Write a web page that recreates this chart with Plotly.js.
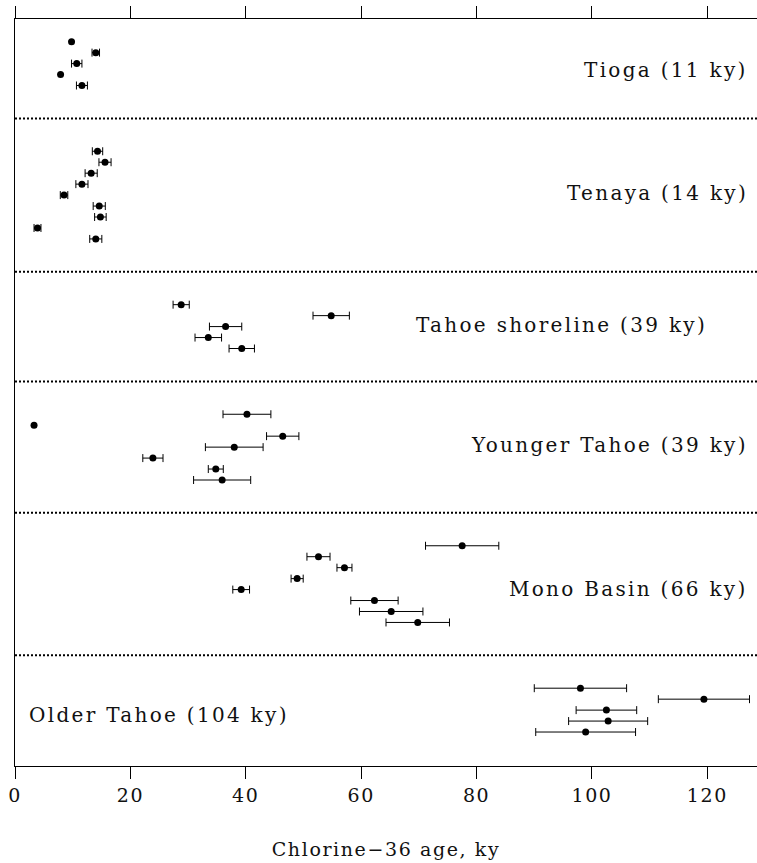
<!DOCTYPE html>
<html>
<head>
<meta charset="utf-8">
<script src="https://cdn.plot.ly/plotly-3.0.1.min.js"></script>
<style>
html,body{margin:0;padding:0;background:#fff;}
#chart{width:757px;height:863px;}
text{letter-spacing:2.3px;}
.g-xtitle text{letter-spacing:1.6px;}
.xtick text{letter-spacing:1.6px;}
</style>
</head>
<body>
<div id="chart"></div>
<script>
// Chlorine-36 ages (ky) and 1-sigma errors (ky), grouped by moraine
var groupNames = ["Tioga (11 ky)", "Tenaya (14 ky)", "Tahoe shoreline (39 ky)", "Younger Tahoe (39 ky)", "Mono Basin (66 ky)", "Older Tahoe (104 ky)"];
var tiogaAge = [9.8, 14.0, 10.7, 7.9, 11.6];
var tiogaErr = [0, 0.65, 0.9, 0, 0.95];
var tenayaAge = [14.3, 15.6, 13.2, 11.6, 8.5, 14.6, 14.8, 3.9, 14.0];
var tenayaErr = [0.9, 1.05, 1.05, 1.05, 0.65, 1.05, 1.0, 0.6, 1.05];
var shorelineAge = [28.8, 54.8, 36.5, 33.5, 39.3];
var shorelineErr = [1.4, 3.15, 2.8, 2.3, 2.2];
var youngerTahoeAge = [40.2, 3.3, 46.4, 38.0, 23.9, 34.8, 35.9];
var youngerTahoeErr = [4.15, 0, 2.8, 5.0, 1.75, 1.3, 4.95];
var monoBasinAge = [77.5, 52.6, 57.1, 48.9, 39.2, 62.3, 65.2, 69.8];
var monoBasinErr = [6.35, 2.0, 1.3, 1.05, 1.45, 4.1, 5.5, 5.5];
var olderTahoeAge = [98.0, 119.4, 102.5, 102.8, 98.9];
var olderTahoeErr = [8.0, 7.9, 5.25, 6.85, 8.65];
var xTickVals = [0, 20, 40, 60, 80, 100, 120];

var groups = [
  {age: tiogaAge, err: tiogaErr},
  {age: tenayaAge, err: tenayaErr},
  {age: shorelineAge, err: shorelineErr},
  {age: youngerTahoeAge, err: youngerTahoeErr},
  {age: monoBasinAge, err: monoBasinErr},
  {age: olderTahoeAge, err: olderTahoeErr}
];

var FONT = "'DejaVu Serif', 'Liberation Serif', serif";
var traces = [], shapes = [], annotations = [];
// label placement per group: [paper x, anchor, row offset]
var labelPos = [
  [0.99, 'right', 2.6],
  [0.99, 'right', 3.85],
  [0.935, 'right', 1.85],
  [0.99, 'right', 2.85],
  [0.99, 'right', 3.95],
  [0.016, 'left', 2.45]
];
var row = 0;
groups.forEach(function (g, gi) {
  var ys = [], errs = [];
  var start = row;
  g.age.forEach(function (a, i) {
    ys.push(row);
    errs.push(g.err[i] > 0 ? g.err[i] : NaN);
    row++;
  });
  traces.push({
    type: 'scatter', mode: 'markers', x: g.age, y: ys,
    marker: {color: '#000', size: 7},
    error_x: {type: 'data', array: errs, symmetric: true, color: '#000', thickness: 1, width: 4},
    hoverinfo: 'x', showlegend: false
  });
  annotations.push({
    xref: 'paper', yref: 'y', x: labelPos[gi][0], y: start + labelPos[gi][2],
    xanchor: labelPos[gi][1], yanchor: 'middle', showarrow: false,
    text: groupNames[gi], font: {family: FONT, size: 20, color: '#111'}
  });
  if (gi < groups.length - 1) {
    var sepY = row - 1 + 3;
    shapes.push({type: 'line', xref: 'paper', yref: 'y', x0: 0, x1: 1, y0: sepY, y1: sepY,
      line: {color: '#000', width: 2, dash: '2px,2px'}});
    row = sepY + 3;
  }
});

var layout = {
  width: 757, height: 863,
  margin: {l: 15, r: 0, t: 19, b: 97},
  paper_bgcolor: '#fff', plot_bgcolor: '#fff',
  showlegend: false,
  xaxis: {
    range: [0, 128.6], tickvals: xTickVals, ticktext: xTickVals.map(String),
    ticks: 'outside', ticklen: 12, tickwidth: 1, tickcolor: '#000',
    showline: true, linecolor: '#000', linewidth: 1, mirror: 'ticks',
    showgrid: false, zeroline: false,
    tickfont: {family: FONT, size: 19, color: '#111'},
    title: {text: 'Chlorine\u221236 age, ky', font: {family: FONT, size: 19, color: '#111'}, standoff: 37}
  },
  yaxis: {
    range: [66.1, -2.07], showticklabels: false, ticks: '', showgrid: false, zeroline: false,
    showline: true, linecolor: '#000', linewidth: 1
  },
  shapes: shapes,
  annotations: annotations
};
Plotly.newPlot('chart', traces, layout, {displayModeBar: false, staticPlot: true});
</script>
</body>
</html>
